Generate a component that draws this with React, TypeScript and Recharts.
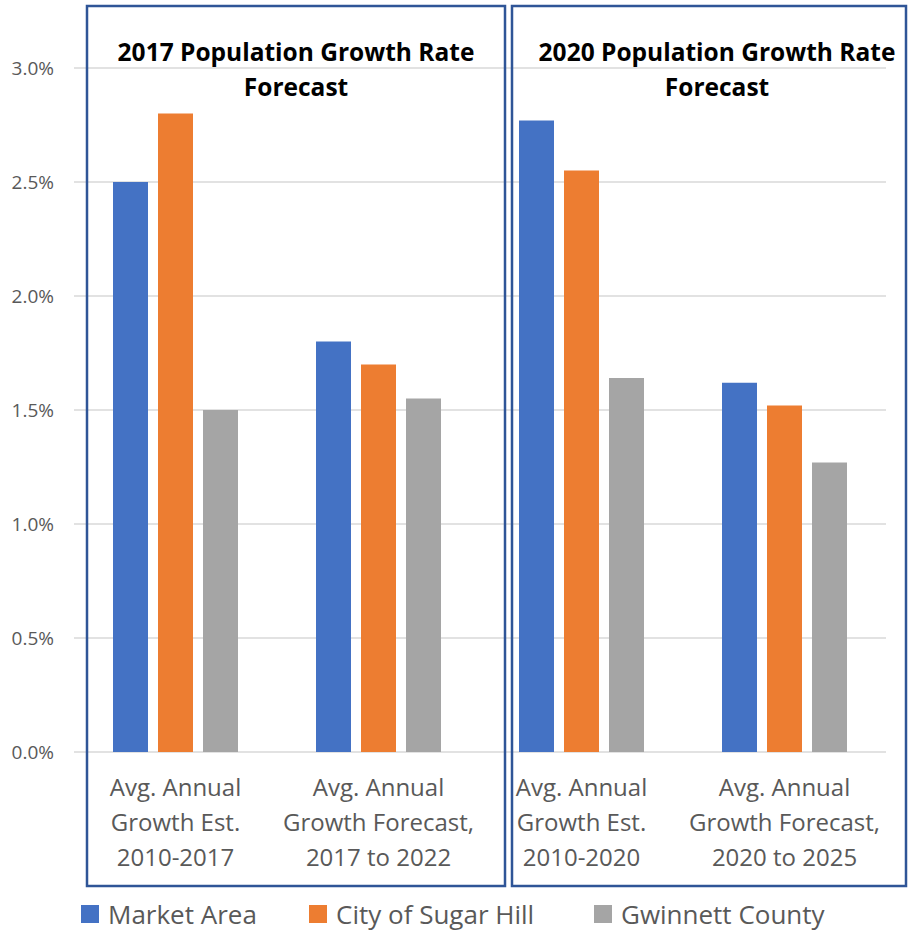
import React from "react";
import { BarChart, Bar, XAxis, YAxis, CartesianGrid, Legend } from "recharts";

const CATEGORIES = [
  "Avg. Annual|Growth Est.|2010-2017",
  "Avg. Annual|Growth Forecast,|2017 to 2022",
  "Avg. Annual|Growth Est.|2010-2020",
  "Avg. Annual|Growth Forecast,|2020 to 2025",
];
const MARKET_AREA = [0.025, 0.018, 0.0277, 0.0162];
const SUGAR_HILL = [0.028, 0.017, 0.0255, 0.0152];
const GWINNETT = [0.015, 0.0155, 0.0164, 0.0127];
const Y_TICKS = [0, 0.005, 0.01, 0.015, 0.02, 0.025, 0.03];
const TITLES = ["2017 Population Growth Rate", "2020 Population Growth Rate"];

const SERIES = [
  { key: "market", name: "Market Area", color: "#4472C4" },
  { key: "sugar", name: "City of Sugar Hill", color: "#ED7D31" },
  { key: "gwinnett", name: "Gwinnett County", color: "#A5A5A5" },
];

const data = CATEGORIES.map((c, i) => ({
  cat: c,
  market: MARKET_AREA[i],
  sugar: SUGAR_HILL[i],
  gwinnett: GWINNETT[i],
}));

const FONT = "'Open Sans', sans-serif";

const CatTick = (props: any) => {
  const { x, y, payload } = props;
  const lines = String(payload.value).split("|");
  return (
    <text x={x} y={y + 36} textAnchor="middle" fill="#595959" fontSize={24} fontFamily={FONT}>
      {lines.map((l, i) => (
        <tspan key={i} x={x} dy={i === 0 ? 0 : 35}>
          {l}
        </tspan>
      ))}
    </text>
  );
};

const LEGEND_X = [81, 309, 594];

const renderLegend = () => (
  <div style={{ position: "relative", width: 910, height: 32 }}>
    {SERIES.map((s, i) => (
      <div
        key={s.key}
        style={{
          position: "absolute",
          left: LEGEND_X[i],
          top: 0,
          height: 32,
          lineHeight: "32px",
          display: "flex",
          alignItems: "center",
          fontFamily: FONT,
          fontSize: 26,
          color: "#595959",
          whiteSpace: "nowrap",
        }}
      >
        <span style={{ display: "inline-block", width: 18, height: 18, background: s.color, marginRight: 9 }} />
        {s.name}
      </div>
    ))}
  </div>
);

export default function App() {
  return (
    <div style={{ position: "absolute", left: 0, top: 0, width: 910, height: 931, background: "#fff" }}>
      <BarChart
        width={910}
        height={931}
        data={data}
        margin={{ top: 68, right: 24, bottom: 117, left: 0 }}
        barSize={35}
        barGap={10}
      >
        <CartesianGrid vertical={false} stroke="#d9d9d9" strokeWidth={1.5} />
        <XAxis dataKey="cat" tick={<CatTick />} tickLine={false} axisLine={false} interval={0} />
        <YAxis
          width={74}
          domain={[0, 0.03]}
          ticks={Y_TICKS}
          tickFormatter={(v: number) => `${(v * 100).toFixed(1)}%`}
          tick={{ fill: "#595959", fontSize: 19, fontFamily: FONT }}
          tickLine={false}
          axisLine={false}
          tickMargin={14}
        />
        {SERIES.map((s) => (
          <Bar key={s.key} dataKey={s.key} name={s.name} fill={s.color} isAnimationActive={false} />
        ))}
        <Legend content={renderLegend} wrapperStyle={{ position: "absolute", left: 0, top: 898, width: 910, height: 32 }} />
      </BarChart>
      <svg width={910} height={931} style={{ position: "absolute", left: 0, top: 0, pointerEvents: "none" }}>
        <rect x={87} y={6} width={418} height={880} fill="none" stroke="#2F5597" strokeWidth={2.5} />
        <rect x={512} y={6} width={394} height={880} fill="none" stroke="#2F5597" strokeWidth={2.5} />
        {TITLES.map((t, i) => {
          const cx = i === 0 ? 296 : 717;
          return (
            <text key={t} x={cx} y={61} textAnchor="middle" fontFamily={FONT} fontWeight="bold" fontSize={24.5} fill="#000">
              <tspan x={cx}>{t}</tspan>
              <tspan x={cx} dy={35}>Forecast</tspan>
            </text>
          );
        })}
      </svg>
    </div>
  );
}
